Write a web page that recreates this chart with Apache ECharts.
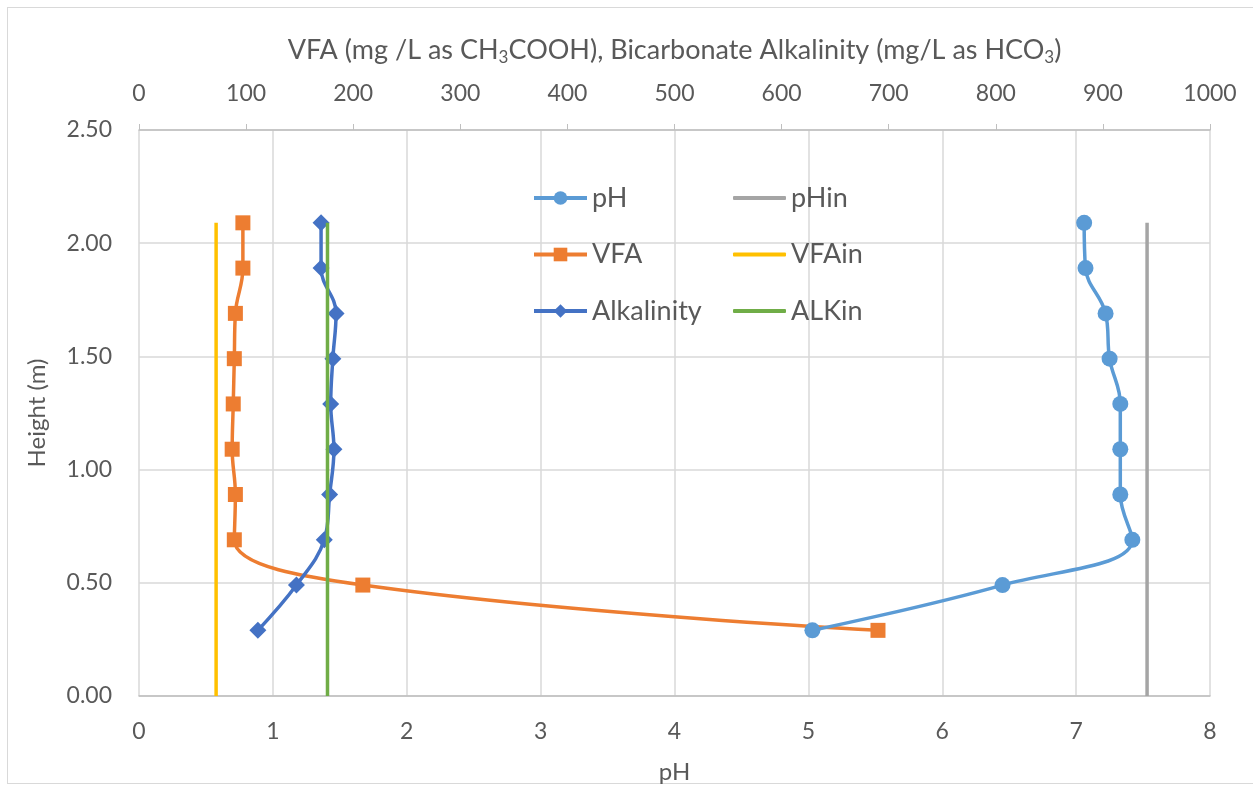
<!DOCTYPE html>
<html>
<head>
<meta charset="utf-8">
<script src="https://cdn.jsdelivr.net/npm/echarts@6/dist/echarts.min.js"></script>
<style>
  html, body { margin: 0; padding: 0; background: #fff; }
  #chart { position: absolute; left: 0; top: 0; width: 1253px; height: 789px; }
  #frame { position: absolute; left: 7px; top: 7px; width: 1260px; height: 777px; border: 1px solid #D9D9D9; box-sizing: border-box; }
</style>
</head>
<body>
<div id="frame"></div>
<div id="chart"></div>
<script>
// Sampling heights (m) along the reactor
const heights = [2.09, 1.89, 1.69, 1.49, 1.29, 1.09, 0.89, 0.69, 0.49, 0.29];
// pH profile
const pH = [7.06, 7.07, 7.22, 7.25, 7.33, 7.33, 7.33, 7.42, 6.45, 5.03];
// VFA (mg/L as CH3COOH)
const vfa = [97, 97, 90, 89, 88, 87, 90, 89, 209, 690];
// Bicarbonate alkalinity (mg/L as HCO3)
const alkalinity = [170, 170, 184, 181, 179, 182, 178, 173, 147, 111];
// Influent values
const pHin = 7.53;
const vfaIn = 72;
const alkIn = 176;
const inletTop = 2.09;

const FONT = 'Lato, "Open Sans", sans-serif';
const TXT = '#595959';

const pairs = (xs) => xs.map((x, i) => [x, heights[i]]);
const vline = (x) => [[x, 0], [x, inletTop]];

const chart = echarts.init(document.getElementById('chart'), null, { renderer: 'canvas' });

const legendText = { color: TXT, fontSize: 27, fontFamily: FONT, lineHeight: 28 };

chart.setOption({
  animation: false,
  backgroundColor: 'transparent',
  textStyle: { fontFamily: FONT },
  grid: { left: 139, right: 43, top: 130, bottom: 93, containLabel: false },
  legend: [
    {
      left: 527, top: 179, orient: 'vertical', itemGap: 28.5,
      itemWidth: 53, itemHeight: 17,
      lineStyle: { width: 4 },
      data: ['pH', 'VFA', 'Alkalinity'], textStyle: legendText
    },
    {
      left: 728, top: 179, orient: 'vertical', itemGap: 28.5,
      itemWidth: 53, itemHeight: 4,
      data: [
        { name: 'pHin', icon: 'roundRect' },
        { name: 'VFAin', icon: 'roundRect' },
        { name: 'ALKin', icon: 'roundRect' }
      ],
      textStyle: legendText
    }
  ],
  xAxis: [
    {
      type: 'value', position: 'bottom', min: 0, max: 8, interval: 1,
      name: 'pH', nameLocation: 'middle', nameGap: 64,
      nameTextStyle: { color: TXT, fontSize: 24, fontFamily: FONT },
      axisLine: { show: true, lineStyle: { color: '#BFBFBF', width: 1.5 } },
      axisTick: { show: false },
      axisLabel: { color: TXT, fontSize: 23, fontFamily: FONT, margin: 24 },
      splitLine: { show: true, lineStyle: { color: '#D9D9D9', width: 1.5 } }
    },
    {
      type: 'value', position: 'top', min: 0, max: 1000, interval: 100,
      name: '{n|VFA (mg /L as CH}{s|3}{n|COOH), Bicarbonate Alkalinity (mg/L as HCO}{s|3}{n|)}',
      nameLocation: 'middle', nameGap: 64,
      nameTextStyle: {
        rich: {
          n: { color: TXT, fontSize: 27, fontFamily: FONT },
          s: { color: TXT, fontSize: 17, fontFamily: FONT, padding: [15, 0, 0, 0] }
        }
      },
      axisLine: { show: true, lineStyle: { color: '#BFBFBF', width: 1.5 } },
      axisTick: { show: true, inside: false, length: 6, lineStyle: { color: '#BFBFBF', width: 1 } },
      axisLabel: { color: TXT, fontSize: 23, fontFamily: FONT, margin: 25, formatter: (v) => String(v) },
      splitLine: { show: false }
    }
  ],
  yAxis: {
    type: 'value', min: 0, max: 2.5, interval: 0.5,
    name: 'Height (m)', nameLocation: 'middle', nameGap: 90,
    nameTextStyle: { color: TXT, fontSize: 24, fontFamily: FONT },
    axisLine: { show: false },
    axisTick: { show: false },
    axisLabel: { color: TXT, fontSize: 23, fontFamily: FONT, margin: 27, formatter: (v) => v.toFixed(2) },
    splitLine: { show: true, lineStyle: { color: '#D9D9D9', width: 1.5 } }
  },
  series: [
    {
      name: 'pH', type: 'line', xAxisIndex: 0, data: pairs(pH), smooth: 0.4,
      symbol: 'circle', symbolSize: 16,
      itemStyle: { color: '#5B9BD5' }, lineStyle: { color: '#5B9BD5', width: 3.5 }, z: 5
    },
    {
      name: 'pHin', type: 'line', xAxisIndex: 0, data: vline(pHin), symbol: 'none',
      itemStyle: { color: '#A5A5A5' }, lineStyle: { color: '#A5A5A5', width: 3.5 }, z: 3
    },
    {
      name: 'VFA', type: 'line', xAxisIndex: 1, data: pairs(vfa), smooth: 0.4,
      symbol: 'rect', symbolSize: 15,
      itemStyle: { color: '#ED7D31' }, lineStyle: { color: '#ED7D31', width: 3.5 }, z: 4
    },
    {
      name: 'VFAin', type: 'line', xAxisIndex: 1, data: vline(vfaIn), symbol: 'none',
      itemStyle: { color: '#FFC000' }, lineStyle: { color: '#FFC000', width: 3.5 }, z: 3
    },
    {
      name: 'Alkalinity', type: 'line', xAxisIndex: 1, data: pairs(alkalinity), smooth: 0.4,
      symbol: 'diamond', symbolSize: 17,
      itemStyle: { color: '#4472C4' }, lineStyle: { color: '#4472C4', width: 3.5 }, z: 4
    },
    {
      name: 'ALKin', type: 'line', xAxisIndex: 1, data: vline(alkIn), symbol: 'none',
      itemStyle: { color: '#70AD47' }, lineStyle: { color: '#70AD47', width: 3.5 }, z: 6
    }
  ]
});
</script>
</body>
</html>
